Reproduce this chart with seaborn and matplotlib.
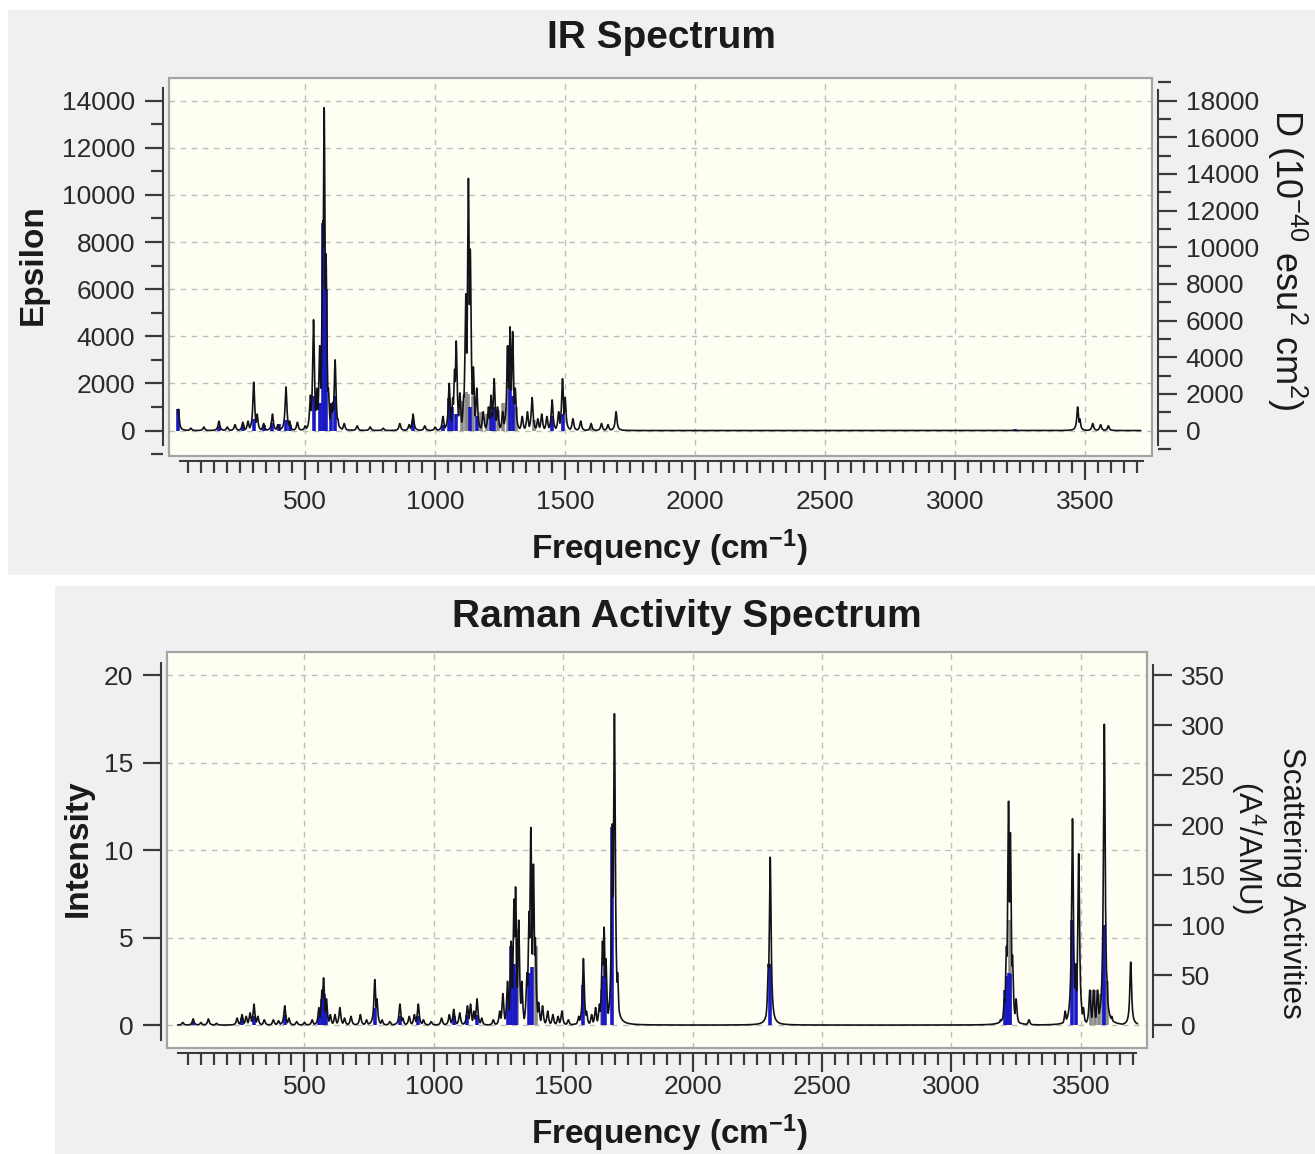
import numpy as np
import pandas as pd
import seaborn as sns
import matplotlib.pyplot as plt
from matplotlib import font_manager
from matplotlib.patches import Rectangle
from matplotlib.ticker import MultipleLocator

# ---- IR spectrum: peaks of the broadened curve (cm-1, epsilon) ----
ir_freq = [12, 60, 110, 168, 200, 230, 260, 280, 302, 315, 340, 374, 395, 426, 440, 470,
           500, 520, 532, 545, 556, 568, 573, 580, 589, 600, 606, 615, 625, 650, 700, 750,
           800, 864, 900, 915, 960, 1000, 1030, 1054, 1068, 1075, 1081, 1095, 1110, 1118,
           1128, 1135, 1147, 1160, 1185, 1205, 1215, 1227, 1240, 1260, 1279, 1288, 1298,
           1308, 1335, 1355, 1373, 1395, 1410, 1430, 1450, 1475, 1490, 1500, 1530, 1560,
           1600, 1640, 1665, 1696, 3472, 3480, 3530, 3560, 3590]
ir_eps = [900, 100, 150, 400, 150, 250, 350, 400, 2050, 700, 300, 700, 250, 1850, 400, 350,
          200, 1500, 4700, 1800, 3600, 8900, 13700, 7500, 1800, 1100, 1200, 3000, 500, 300, 200, 150,
          100, 300, 250, 700, 200, 150, 600, 2000, 1400, 2600, 3800, 1600, 1500, 5800,
          10700, 7700, 2700, 1800, 800, 1000, 1500, 2200, 1000, 800, 3600, 4400, 4200,
          1800, 600, 800, 1400, 500, 700, 600, 1300, 800, 2200, 1400, 500, 400,
          300, 300, 250, 800, 1000, 500, 300, 250, 200]

# IR sticks (cm-1, D in 10^-40 esu^2 cm^2)
ir_stick_freq = [12, 168, 260, 302, 340, 374, 400, 426, 440, 532, 556, 568, 573, 580, 600,
                 615, 915, 1030, 1054, 1065, 1081, 1135, 1160, 1215, 1227, 1288, 1298, 1450,
                 1490, 3230]
ir_stick_d = [1150, 250, 300, 650, 300, 400, 350, 600, 300, 1900, 1500, 11300, 9600, 7700, 1500,
              1900, 500, 300, 1800, 1300, 900, 1300, 800, 1000, 1300, 2300, 1900, 800,
              900, 100]
ir_grey_freq = [1105, 1118, 1128, 1145, 1175, 1200, 1240, 1262, 1279, 1310, 1380, 1600]
ir_grey_d = [1600, 2100, 2000, 1900, 1000, 900, 1100, 1500, 4600, 1300, 600, 200]

# ---- Raman spectrum: peaks of the broadened curve (cm-1, intensity) ----
raman_freq = [30, 70, 100, 129, 160, 240, 259, 275, 290, 305, 320, 345, 380, 400, 424, 440,
              470, 500, 530, 556, 568, 574, 585, 600, 618, 637, 655, 680, 716, 740, 772, 780,
              800, 830, 869, 880, 905, 925, 940, 960, 990, 1030, 1060, 1077, 1100, 1130,
              1142, 1155, 1167, 1185, 1230, 1255, 1267, 1285, 1299, 1310, 1316, 1328, 1340,
              1360, 1368, 1375, 1385, 1392, 1405, 1420, 1440, 1460, 1480, 1495, 1520, 1560,
              1578, 1590, 1610, 1625, 1640, 1652, 1658, 1665, 1690, 1698, 1710, 2293, 2300,
              3190, 3205, 3213, 3221, 3228, 3236, 3250, 3300, 3440, 3460, 3468, 3480, 3492,
              3510, 3535, 3550, 3565, 3575, 3591, 3600, 3620, 3693]
raman_int = [0.15, 0.35, 0.15, 0.35, 0.1, 0.4, 0.6, 0.5, 0.7, 1.2, 0.5, 0.3, 0.3, 0.25, 1.1, 0.4,
             0.2, 0.15, 0.3, 1.0, 2.0, 2.7, 1.5, 0.6, 0.6, 1.0, 0.4, 0.5, 0.6, 0.3, 2.6, 1.5,
             0.3, 0.2, 1.2, 0.4, 0.5, 0.6, 1.2, 0.3, 0.2, 0.4, 0.6, 0.9, 0.7, 1.1,
             1.2, 0.8, 1.5, 0.4, 0.3, 0.8, 1.8, 2.5, 4.8, 7.2, 7.9, 6.0, 2.5,
             3.0, 6.5, 11.3, 9.2, 5.0, 1.3, 1.1, 0.8, 0.6, 0.5, 0.8, 0.3, 0.5,
             3.8, 0.8, 0.6, 1.0, 1.2, 4.8, 5.6, 3.8, 11.5, 17.8, 3.0, 3.5, 9.6,
             0.3, 1.5, 4.5, 12.8, 11.0, 4.0, 1.5, 0.3, 0.8, 2.0, 11.8, 3.5, 9.8,
             1.0, 2.0, 2.0, 2.0, 1.0, 17.2, 3.0, 0.5, 3.6]

# Raman sticks (cm-1, scattering activity A^4/AMU)
raman_stick_freq = [70, 259, 305, 424, 556, 568, 574, 585, 772, 869, 940, 1077, 1130, 1167,
                    1285, 1299, 1310, 1316, 1368, 1378, 1578, 1652, 1660, 1690, 2300, 3208,
                    3215, 3222, 3228, 3468, 3480, 3591]
raman_stick_act = [3.5, 7, 9, 10.5, 9, 26, 31.5, 17.5, 17.5, 9, 9, 9, 10.5, 10.5,
                   26, 79, 61, 52, 52, 58, 40, 49, 66, 198, 61, 35,
                   49, 52, 51, 105, 52, 100]
raman_grey_freq = [1320, 1395, 1650, 3225, 3540, 3555, 3570, 3585, 3600]
raman_grey_act = [96, 79, 35, 105, 35, 35, 31, 52, 44]

x_ticks = [500, 1000, 1500, 2000, 2500, 3000, 3500]

HWHM = 4.0          # line half width for the broadened curves
IR_RATIO = 18000 / 14000   # right (D) axis over left (epsilon) axis
RA_RATIO = 17.5            # right (activity) axis over left (intensity) axis


def broaden(freq, height, grid):
    f = np.asarray(freq, float)[:, None]
    h = np.asarray(height, float)[:, None]
    return (h / (1 + ((grid[None, :] - f) / HWHM) ** 2)).max(axis=0)


sns.set_style('ticks')
names = {f.name for f in font_manager.fontManager.ttflist}
tick_font = 'Liberation Sans Narrow' if 'Liberation Sans Narrow' in names else 'Liberation Sans'
plt.rcParams['font.family'] = [tick_font, 'DejaVu Sans']
plt.rcParams['mathtext.fontset'] = 'custom'
plt.rcParams['mathtext.rm'] = 'Liberation Sans'
plt.rcParams['mathtext.bf'] = 'Liberation Sans:bold'
plt.rcParams['mathtext.it'] = 'Liberation Sans:italic'
tick_size = 21 if tick_font != 'Liberation Sans' else 19
LABEL_FONT = 'Liberation Sans'

W, H = 1315, 1154
fig = plt.figure(figsize=(W / 100, H / 100), dpi=100, facecolor='white')


def fx(x):
    return x / W


def fy(y):
    return 1 - y / H


# grey panels behind each chart
fig.patches.append(Rectangle((fx(8), fy(575)), fx(1307), (575 - 10) / H, transform=fig.transFigure,
                             facecolor='#f0f0f0', edgecolor='none', zorder=-10))
fig.patches.append(Rectangle((fx(55), 0), fx(1260), (1154 - 586) / H, transform=fig.transFigure,
                             facecolor='#f0f0f0', edgecolor='none', zorder=-10))


def make_panel(box, xlim, ylim, ratio, left_step, left_minor, right_step, right_minor,
               lbounds, rbounds, xbounds, xpad):
    l, t, r, b = box
    ax = fig.add_axes([fx(l), fy(b), (r - l) / W, (b - t) / H])
    ax.set_facecolor('#fefef3')
    ax.set_xlim(*xlim)
    ax.set_ylim(*ylim)
    ax.add_patch(Rectangle((0, 0), 1, 1, transform=ax.transAxes, fill=False,
                           edgecolor='#a4a4a4', lw=1.6, clip_on=False, zorder=5))
    for s in ['top', 'right']:
        ax.spines[s].set_visible(False)
    ax.spines['left'].set_position(('outward', 4.3))
    ax.spines['bottom'].set_position(('outward', 3.6))
    for s in ['left', 'bottom']:
        ax.spines[s].set_color('#3a3a3a')
        ax.spines[s].set_linewidth(1.5)
    ax.spines['left'].set_bounds(*lbounds)
    ax.spines['bottom'].set_bounds(*xbounds)

    ax.set_xticks(x_ticks)
    ax.set_xticklabels([str(v) for v in x_ticks])
    ax.set_xticks(np.arange(50, 3701, 50), minor=True)
    ax.yaxis.set_major_locator(MultipleLocator(left_step))
    if left_minor:
        ax.yaxis.set_minor_locator(MultipleLocator(left_minor))
    ax.tick_params(axis='x', which='major', direction='out', length=14, width=1.6,
                   color='#3a3a3a', labelcolor='#2a2a2a', labelsize=tick_size, pad=xpad)
    ax.tick_params(axis='x', which='minor', direction='out', length=8.5, width=1.6, color='#3a3a3a')
    ax.tick_params(axis='y', which='major', direction='out', length=13, width=1.6,
                   color='#3a3a3a', labelcolor='#2a2a2a', labelsize=tick_size, pad=7)
    ax.tick_params(axis='y', which='minor', direction='out', length=9, width=1.6, color='#3a3a3a')
    ax.grid(True, which='major', linestyle=(0, (4, 4)), color='#bdbdbd', lw=1.0)
    ax.set_axisbelow(True)

    axr = ax.twinx()
    axr.set_ylim(ylim[0] * ratio, ylim[1] * ratio)
    for s in ['top', 'left', 'bottom']:
        axr.spines[s].set_visible(False)
    axr.spines['right'].set_position(('outward', 4.3))
    axr.spines['right'].set_color('#3a3a3a')
    axr.spines['right'].set_linewidth(1.5)
    axr.spines['right'].set_bounds(*rbounds)
    axr.yaxis.set_major_locator(MultipleLocator(right_step))
    if right_minor:
        axr.yaxis.set_minor_locator(MultipleLocator(right_minor))
    axr.tick_params(axis='y', which='major', direction='out', length=14, width=1.6,
                    color='#3a3a3a', labelcolor='#2a2a2a', labelsize=tick_size, pad=6)
    axr.tick_params(axis='y', which='minor', direction='out', length=9, width=1.6, color='#3a3a3a')
    axr.grid(False)
    return ax, axr


# ---------------- IR ----------------
ax1, ax1r = make_panel((169, 78, 1152, 456), (-24, 3758), (-1080, 14960), IR_RATIO,
                       2000, 1000, 2000, 1000, (-600, 14550), (-780, 18580), (18, 3724), 7)
grid_ir = np.arange(10, 3715, 0.5)
ir_df = pd.DataFrame({'freq': grid_ir, 'eps': broaden(ir_freq, ir_eps, grid_ir)})
ax1.vlines(ir_grey_freq, 0, np.array(ir_grey_d) / IR_RATIO, color='#8c8c8c', lw=2.6, zorder=2)
ax1.vlines(ir_stick_freq, 0, np.array(ir_stick_d) / IR_RATIO, color='#1a1ac4', lw=2.6, zorder=2)
sns.lineplot(data=ir_df, x='freq', y='eps', ax=ax1, estimator=None, color='#121218',
             lw=1.2, zorder=3, legend=False)
ax1.set_xlabel('')
ax1.set_ylabel('')

# ---------------- Raman ----------------
ax2, ax2r = make_panel((167, 652, 1147, 1048), (-31, 3756), (-1.31, 21.33), RA_RATIO,
                       5, None, 50, None, (-0.86, 20.7), (-12, 360), (12, 3712), 2)
grid_ra = np.arange(10, 3720, 0.5)
ra_df = pd.DataFrame({'freq': grid_ra, 'inten': broaden(raman_freq, raman_int, grid_ra)})
ax2.vlines(raman_grey_freq, 0, np.array(raman_grey_act) / RA_RATIO, color='#8c8c8c', lw=2.6, zorder=2)
ax2.vlines(raman_stick_freq, 0, np.array(raman_stick_act) / RA_RATIO, color='#1a1ac4', lw=2.6, zorder=2)
sns.lineplot(data=ra_df, x='freq', y='inten', ax=ax2, estimator=None, color='#121218',
             lw=1.2, zorder=3, legend=False)
ax2.set_xlabel('')
ax2.set_ylabel('')

# ---------------- texts ----------------
fig.text(fx(661), fy(38), 'IR Spectrum', ha='center', va='center', fontsize=28,
         fontweight='bold', family=LABEL_FONT, color='#1a1a1a')
fig.text(fx(687), fy(617), 'Raman Activity Spectrum', ha='center', va='center', fontsize=28,
         fontweight='bold', family=LABEL_FONT, color='#1a1a1a')
fig.text(fx(33), fy(265), 'Epsilon', rotation=90, ha='center', va='center', fontsize=24,
         fontweight='bold', family=LABEL_FONT, color='#1a1a1a')
fig.text(fx(78), fy(848), 'Intensity', rotation=90, ha='center', va='center', fontsize=24,
         fontweight='bold', family=LABEL_FONT, color='#1a1a1a')
freq_label = r'Frequency (cm$^{\mathbf{-1}}$)'
fig.text(fx(669), fy(548), freq_label, ha='center', va='center', fontsize=24,
         fontweight='bold', family=LABEL_FONT, color='#1a1a1a')
fig.text(fx(669), fy(1133), freq_label, ha='center', va='center', fontsize=24,
         fontweight='bold', family=LABEL_FONT, color='#1a1a1a')
fig.text(fx(1287), fy(260), r'D (10$^{-40}$ esu$^{2}$ cm$^{2}$)', rotation=270, ha='center',
         va='center', fontsize=26, family=LABEL_FONT, color='#1a1a1a')
fig.text(fx(1291), fy(883), 'Scattering Activities', rotation=270, ha='center', va='center',
         fontsize=22.5, family=LABEL_FONT, color='#1a1a1a')
fig.text(fx(1248), fy(848), r'(A$^{4}$/AMU)', rotation=270, ha='center', va='center',
         fontsize=22.5, family=LABEL_FONT, color='#1a1a1a')

fig.savefig('out.png', dpi=100, facecolor='white')
